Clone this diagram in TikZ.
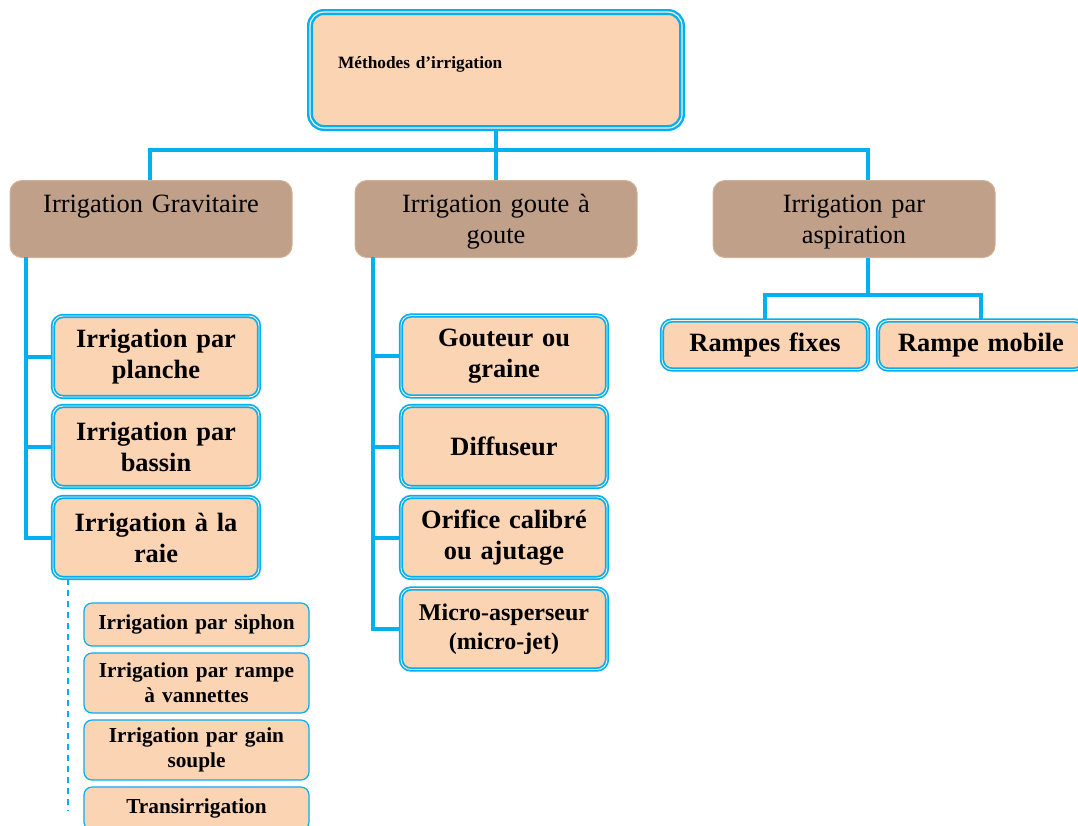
\documentclass[tikz,border=0pt]{standalone}
\usepackage{fontspec}
\setmainfont{Liberation Serif}
\usepackage{tikz}
\usepackage{xcolor}

\definecolor{lineblue}{HTML}{00B0F0}
\definecolor{peach}{HTML}{FBD4B4}
\definecolor{taupe}{HTML}{C0A089}

\begin{document}
\begin{tikzpicture}[x=1pt,y=-1pt,
  conn/.style={lineblue,line width=4pt},
  subline/.style={lineblue,line width=1.8pt,dash pattern=on 6pt off 5pt},
  rootbox/.style={draw=lineblue,line width=2.4pt,double=peach!40!white,double distance=1.2pt,
    fill=peach,rounded corners=14pt,minimum width=372pt,text width=316pt,inner xsep=28pt,
    inner ysep=5pt,align=left,text height=51pt,text depth=55pt,
    font=\fontsize{17.3}{21}\selectfont\bfseries},
  catbox/.style={fill=taupe,draw=taupe!70!peach,line width=1pt,rounded corners=12pt,
    text width=272pt,inner sep=5pt,align=center,text height=27pt,text depth=40pt,
    anchor=north,font=\fontsize{26.4}{31}\selectfont},
  leafbox/.style={draw=lineblue,line width=1.7pt,double=peach!40!white,double distance=0.9pt,
    fill=peach,rounded corners=10pt,minimum width=206pt,minimum height=81pt,text width=196pt,
    align=center,font=\fontsize{26.4}{31}\selectfont\bfseries},
  subbox/.style={draw=lineblue,line width=1.2pt,fill=peach,rounded corners=8pt,
    minimum width=225pt,text width=215pt,align=center,
    font=\fontsize{21.3}{25}\selectfont\bfseries}
]
  \useasboundingbox (0,0) rectangle (1078,825);

  % Root
  \node[rootbox] (methodes) at (496,70) {Méthodes d’irrigation};

  % Main families
  \node[catbox] (grav)  at (151,180) {Irrigation Gravitaire};
  \node[catbox] (goute) at (496,180) {Irrigation goute à\\goute};
  \node[catbox] (aspi)  at (854,180) {Irrigation par\\aspiration};

  % Gravity methods
  \node[leafbox] (planche) at (156,356.5) {Irrigation par\\planche};
  \node[leafbox] (bassin)  at (156,446.5) {Irrigation par\\bassin};
  \node[leafbox] (raie)    at (156,537.5) {Irrigation à la\\raie};

  % Furrow variants
  \node[subbox,minimum height=43pt] (siphon) at (196.5,624.5) {Irrigation par siphon};
  \node[subbox,minimum height=60pt] (rampe)  at (196.5,683)   {Irrigation par rampe\\à vannettes};
  \node[subbox,minimum height=60pt] (gain)   at (196.5,750)   {Irrigation par gain\\souple};
  \node[subbox,minimum height=43pt] (trans)  at (196.5,808.5) {Transirrigation};

  % Drip methods
  \node[leafbox] (gouteur) at (504,356)   {Gouteur ou\\graine};
  \node[leafbox] (diff)    at (504,446.5) {Diffuseur};
  \node[leafbox] (orifice) at (504,537.5) {Orifice calibré\\ou ajutage};
  \node[leafbox,font=\fontsize{24}{29}\selectfont\bfseries] (microjet) at (504,629)
    {Micro-asperseur\\(micro-jet)};

  % Sprinkler ramps
  \node[leafbox,minimum height=49pt] (fixes)  at (765,345) {Rampes fixes};
  \node[leafbox,minimum height=49pt] (mobile) at (981,345) {Rampe mobile};

  % Connectors
  \coordinate (hubL) at (150,150);
  \coordinate (hubR) at (868,150);
  \draw[conn] (grav.north -| hubL) -- (hubL) -- (hubR) -- (aspi.north -| hubR);
  \draw[conn] (methodes.south) -- (goute.north);

  \coordinate (gravbus) at (26,257);
  \draw[conn] (gravbus) |- (raie.west);
  \foreach \b in {planche,bassin}
    \draw[conn] (\b.west) -- (\b.west -| gravbus);

  \coordinate (goutebus) at (373,257);
  \draw[conn] (goutebus) |- (microjet.west);
  \foreach \b in {gouteur,diff,orifice}
    \draw[conn] (\b.west) -- (\b.west -| goutebus);

  \coordinate (aspibus) at (868,295);
  \draw[conn] (aspi.south -| aspibus) -- (aspibus);
  \draw[conn] (fixes.north) |- (aspibus) -| (mobile.north);

  \coordinate (dashend) at (68,810);
  \draw[subline] (raie.south -| dashend) -- (dashend);
\end{tikzpicture}
\end{document}
